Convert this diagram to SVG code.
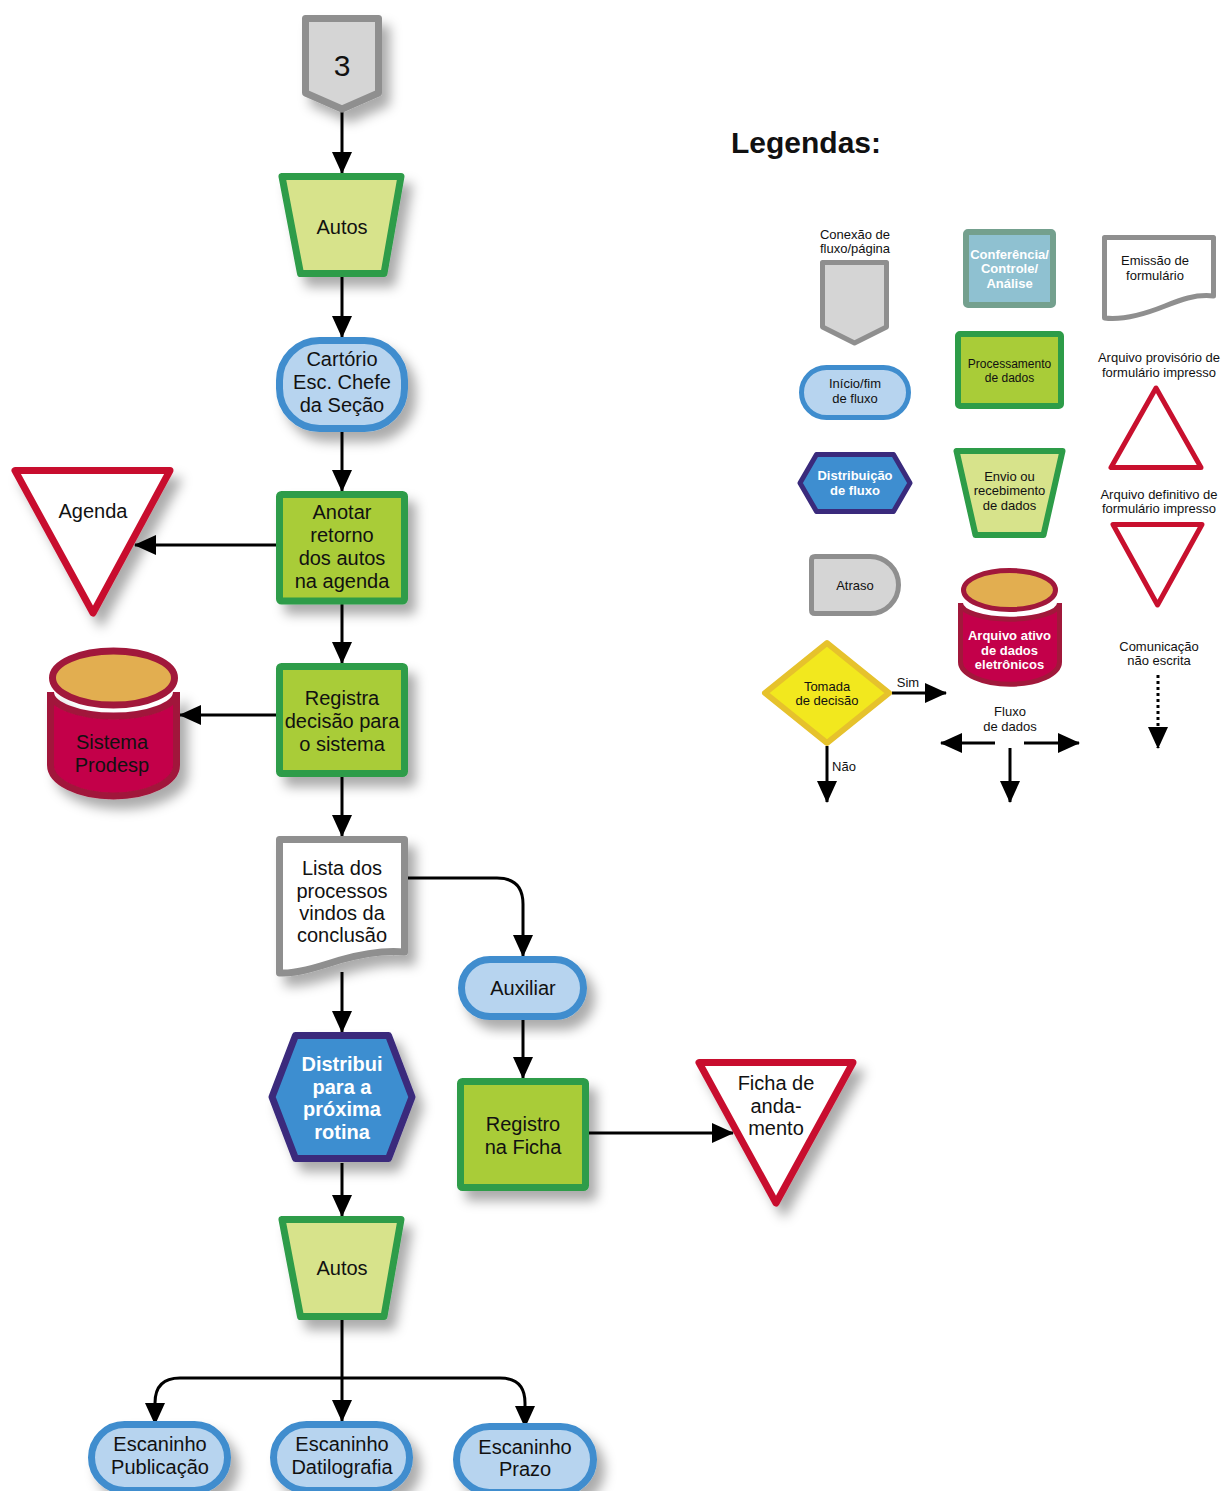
<svg xmlns="http://www.w3.org/2000/svg" width="1221" height="1491" viewBox="0 0 1221 1491">
<style>
text{font-family:"Liberation Sans",Arial,sans-serif;fill:#111;text-anchor:middle}
.m{font-size:20px}
.l{font-size:13px}
.b{font-weight:bold;fill:#fff}
.con{fill:none;stroke:#000;stroke-width:3}
.gray{fill:#d5d5d5;stroke:#8f8f8f;stroke-linejoin:round}
.trap{fill:#d7e38b;stroke:#2d9c48;stroke-linejoin:round}
.proc{fill:#a9cc38;stroke:#2d9c48;stroke-linejoin:round}
.term{fill:#b7d4ef;stroke:#3f8dce}
.hex{fill:#3e8ed0;stroke:#3a2a7c;stroke-linejoin:round}
.tri{fill:#fff;stroke:#c8102e;stroke-linejoin:round}
.cyl{fill:#c3004a;stroke:#a1183b}
.cyltop{fill:#e2ae50;stroke:#a1183b}
.doc{fill:#fff;stroke:#8f8f8f;stroke-linejoin:round}
.sh{filter:url(#sh)}
</style>
<defs>
<filter id="sh" x="-30%" y="-30%" width="170%" height="170%"><feDropShadow dx="8" dy="10" stdDeviation="6" flood-color="#000" flood-opacity="0.33"/></filter>
<marker id="ah" markerUnits="userSpaceOnUse" markerWidth="22" markerHeight="20" refX="21" refY="10" orient="auto"><path d="M0,0 L22,10 L0,20 Z" fill="#000"/></marker>
</defs>

<text x="731" y="153" style="font-size:30px;font-weight:bold;text-anchor:start">Legendas:</text>

<g id="connectors">
<path class="con" marker-end="url(#ah)" d="M342,110 V173"/>
<path class="con" marker-end="url(#ah)" d="M342,277 V337"/>
<path class="con" marker-end="url(#ah)" d="M342,432 V491"/>
<path class="con" marker-end="url(#ah)" d="M276,545 H135"/>
<path class="con" marker-end="url(#ah)" d="M342,604 V663"/>
<path class="con" marker-end="url(#ah)" d="M276,715 H180"/>
<path class="con" marker-end="url(#ah)" d="M342,777 V836"/>
<path class="con" marker-end="url(#ah)" d="M408,878 H497 Q523,878 523,904 V956"/>
<path class="con" marker-end="url(#ah)" d="M342,972 V1032"/>
<path class="con" marker-end="url(#ah)" d="M523,1020 V1078"/>
<path class="con" marker-end="url(#ah)" d="M589,1133 H733"/>
<path class="con" marker-end="url(#ah)" d="M342,1163 V1216"/>
<path class="con" marker-end="url(#ah)" d="M342,1320 V1421"/>
<path class="con" marker-end="url(#ah)" d="M342,1378 H180 Q155,1378 155,1403 V1424"/>
<path class="con" marker-end="url(#ah)" d="M342,1378 H500 Q525,1378 525,1403 V1427"/>
<!-- legend arrows -->
<path class="con" marker-end="url(#ah)" d="M892,693 H946"/>
<path class="con" marker-end="url(#ah)" d="M827,746 V802"/>
<path class="con" marker-end="url(#ah)" d="M995,743 H941"/>
<path class="con" marker-end="url(#ah)" d="M1024,743 H1079"/>
<path class="con" marker-end="url(#ah)" d="M1010,748 V802"/>
<path class="con" marker-end="url(#ah)" d="M1158,675 V748" stroke-dasharray="3,3"/>
</g>

<g id="n3"><path class="gray sh" stroke-width="7" d="M305.5,18.5 L378.5,18.5 L378.5,93 L342,109 L305.5,93 Z"/><text x="342" y="76" style="font-size:30px">3</text></g>
<g id="autos1"><path class="trap sh" stroke-width="7" d="M282,176.5 L401,176.5 L384,273.5 L300.5,273.5 Z"/><text class="m" x="342" y="234">Autos</text></g>
<g id="cartorio"><rect class="term sh" stroke-width="7" x="279.5" y="340.5" width="125" height="88" rx="40"/><text class="m" x="342" y="366">Cartório</text><text class="m" x="342" y="389">Esc. Chefe</text><text class="m" x="342" y="412">da Seção</text></g>
<g id="anotar"><rect class="proc sh" stroke-width="7" x="279.5" y="494.5" width="125" height="106.5" rx="2"/><text class="m" x="342" y="519">Anotar</text><text class="m" x="342" y="542">retorno</text><text class="m" x="342" y="565">dos autos</text><text class="m" x="342" y="588">na agenda</text></g>
<g id="agenda"><path class="tri sh" stroke-width="7" d="M15,470.5 L170,470.5 L93,613 Z"/><text class="m" x="93" y="518">Agenda</text></g>
<g id="registra"><rect class="proc sh" stroke-width="7" x="279.5" y="666.5" width="125" height="107" rx="2"/><text class="m" x="342" y="705">Registra</text><text class="m" x="342" y="728">decisão para</text><text class="m" x="342" y="751">o sistema</text></g>
<g id="prodesp"><path class="cyl sh" stroke-width="7" d="M50.5,692 V765 A63,31 0 0 0 176.5,765 V692 A63,24 0 0 1 50.5,692 Z"/><ellipse class="cyltop" stroke-width="7" cx="113.5" cy="678" rx="61" ry="27"/><text class="m" x="112" y="749">Sistema</text><text class="m" x="112" y="772">Prodesp</text></g>
<g id="lista"><path class="doc sh" stroke-width="7" d="M279.5,839.5 L404.5,839.5 L404.5,952 C385,950 365,953 340,960 C315,968 295,974 279.5,973 Z"/><text class="m" x="342" y="875">Lista dos</text><text class="m" x="342" y="898">processos</text><text class="m" x="342" y="920">vindos da</text><text class="m" x="342" y="942">conclusão</text></g>
<g id="auxiliar"><rect class="term sh" stroke-width="7" x="461.5" y="959.5" width="122" height="57" rx="28.5"/><text class="m" x="523" y="995">Auxiliar</text></g>
<g id="distribui"><path class="hex sh" stroke-width="7" d="M272,1097 L295.5,1035.5 L388.5,1035.5 L412,1097 L388.5,1158.5 L295.5,1158.5 Z"/><text class="m b" x="342" y="1071">Distribui</text><text class="m b" x="342" y="1094">para a</text><text class="m b" x="342" y="1116">próxima</text><text class="m b" x="342" y="1139">rotina</text></g>
<g id="registro"><rect class="proc sh" stroke-width="7" x="460.5" y="1081.5" width="125" height="106" rx="2"/><text class="m" x="523" y="1131">Registro</text><text class="m" x="523" y="1154">na Ficha</text></g>
<g id="ficha"><path class="tri sh" stroke-width="7" d="M699,1062.5 L853,1062.5 L776,1203 Z"/><text class="m" x="776" y="1090">Ficha de</text><text class="m" x="776" y="1113">anda-</text><text class="m" x="776" y="1135">mento</text></g>
<g id="autos2"><path class="trap sh" stroke-width="7" d="M282,1219.5 L401,1219.5 L384,1316.5 L300.5,1316.5 Z"/><text class="m" x="342" y="1275">Autos</text></g>
<g id="publicacao"><rect class="term sh" stroke-width="7" x="91.5" y="1424.5" width="136" height="66" rx="33"/><text class="m" x="160" y="1451">Escaninho</text><text class="m" x="160" y="1474">Publicação</text></g>
<g id="datilografia"><rect class="term sh" stroke-width="7" x="273.5" y="1424.5" width="136" height="66" rx="33"/><text class="m" x="342" y="1451">Escaninho</text><text class="m" x="342" y="1474">Datilografia</text></g>
<g id="prazo"><rect class="term sh" stroke-width="7" x="456.5" y="1426.5" width="137" height="66" rx="33"/><text class="m" x="525" y="1454">Escaninho</text><text class="m" x="525" y="1476">Prazo</text></g>

<!-- legend -->
<g id="lg-conexao"><text class="l" x="855" y="238.5">Conexão de</text><text class="l" x="855" y="252.5">fluxo/página</text><path class="gray" stroke-width="5" d="M822.5,262.5 L886.5,262.5 L886.5,327 L854.5,343 L822.5,327 Z"/></g>
<g id="lg-inicio"><rect class="term" stroke-width="5" x="801.5" y="367.5" width="107" height="50" rx="25"/><text class="l" x="855" y="388">Início/fim</text><text class="l" x="855" y="403">de fluxo</text></g>
<g id="lg-distrib"><path class="hex" stroke-width="5" d="M800,483 L816.5,454.5 L893.5,454.5 L910,483 L893.5,511.5 L816.5,511.5 Z"/><text class="l b" x="855" y="479.5">Distribuição</text><text class="l b" x="855" y="494.5">de fluxo</text></g>
<g id="lg-atraso"><path class="gray" stroke-width="5" d="M815,556.5 H870 A28.5,28.5 0 0 1 870,613.5 H815 Q811.5,613.5 811.5,610 V560 Q811.5,556.5 815,556.5 Z"/><text class="l" x="855" y="589.5">Atraso</text></g>
<g id="lg-decisao"><path fill="#f2e81e" stroke="#e6c22c" stroke-width="6" stroke-linejoin="round" d="M765,693 L827,643 L889,693 L827,743 Z"/><text class="l" x="827" y="690.5">Tomada</text><text class="l" x="827" y="704.5">de decisão</text><text class="l" x="908" y="686.5">Sim</text><text class="l" x="844" y="770.5">Não</text></g>
<g id="lg-conferencia"><rect fill="#8fc1d1" stroke="#74a08e" stroke-width="6" x="966" y="232" width="87" height="73" rx="2"/><text class="l b" x="1009.5" y="258.5">Conferência/</text><text class="l b" x="1009.5" y="272.5">Controle/</text><text class="l b" x="1009.5" y="287.5">Análise</text></g>
<g id="lg-proc"><rect class="proc" stroke-width="6" x="958" y="334" width="103" height="72" rx="2"/><text x="1009.5" y="368" style="font-size:12px">Processamento</text><text x="1009.5" y="382" style="font-size:12px">de dados</text></g>
<g id="lg-envio"><path class="trap" stroke-width="6" d="M956.5,451 L1062.5,451 L1043.5,535 L975.5,535 Z"/><text class="l" x="1009.5" y="480.5">Envio ou</text><text class="l" x="1009.5" y="494.5">recebimento</text><text class="l" x="1009.5" y="509.5">de dados</text></g>
<g id="lg-arquivo"><path class="cyl" stroke-width="5" d="M960.5,603 V662 A49,22 0 0 0 1059.5,662 V603 A49,16 0 0 1 960.5,603 Z"/><ellipse class="cyltop" stroke-width="5" cx="1009.5" cy="590" rx="46" ry="19.5"/><text class="l b" x="1009.5" y="639.5">Arquivo ativo</text><text class="l b" x="1009.5" y="654.5">de dados</text><text class="l b" x="1009.5" y="668.5">eletrônicos</text></g>
<g id="lg-fluxo"><text class="l" x="1010" y="715.5">Fluxo</text><text class="l" x="1010" y="730.5">de dados</text></g>
<g id="lg-emissao"><path class="doc" stroke-width="5" d="M1104.5,237.5 H1213.5 V296 C1195,294 1180,300 1165,306 C1140,316 1120,320 1104.5,318 Z"/><text class="l" x="1155" y="264.5">Emissão de</text><text class="l" x="1155" y="279.5">formulário</text></g>
<g id="lg-provisorio"><text class="l" x="1159" y="361.5">Arquivo provisório de</text><text class="l" x="1159" y="376.5">formulário impresso</text><path class="tri" stroke-width="5" d="M1111,467.5 H1201 L1156,388 Z"/></g>
<g id="lg-definitivo"><text class="l" x="1159" y="498.5">Arquivo definitivo de</text><text class="l" x="1159" y="512.5">formulário impresso</text><path class="tri" stroke-width="5" d="M1113,524.5 H1202 L1157.5,605 Z"/></g>
<g id="lg-comunicacao"><text class="l" x="1159" y="650.5">Comunicação</text><text class="l" x="1159" y="664.5">não escrita</text></g>
</svg>
